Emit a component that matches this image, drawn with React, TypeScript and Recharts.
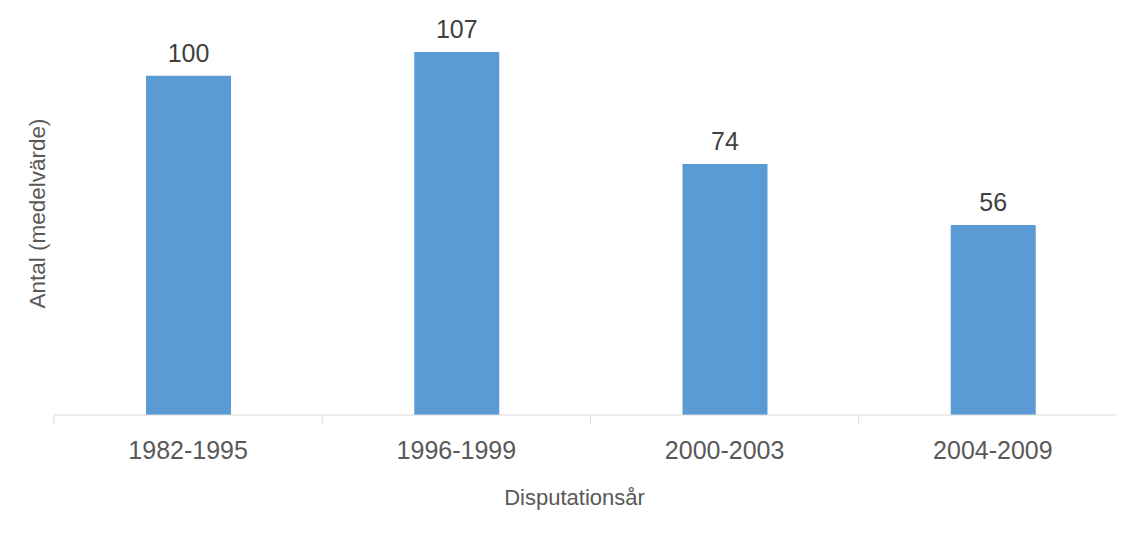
import React from 'react';
import { BarChart, Bar, XAxis, YAxis, LabelList, Label } from 'recharts';

const categories = ['1982-1995', '1996-1999', '2000-2003', '2004-2009'];
const values = [100, 107, 74, 56];
const yDomain = [0, 120];
const xTitle = 'Disputationsår';
const yTitle = 'Antal (medelvärde)';

const data = categories.map((c, i) => ({ category: c, value: values[i] }));

const FONT = '"Liberation Sans", Arial, sans-serif';
const GRID = '#D9D9D9';

const CategoryTick = (props: any) => {
  const { x, y, payload, index, visibleTicksCount } = props;
  const off = payload.offset || 0;
  const isLast = index === visibleTicksCount - 1;
  return (
    <g>
      <line x1={x - off} x2={x - off} y1={y} y2={y + 9} stroke={GRID} strokeWidth={1} />
      {isLast && <line x1={x + off} x2={x + off} y1={y} y2={y + 9} stroke={GRID} strokeWidth={1} />}
      <text x={x} y={y + 44} textAnchor="middle" fill="#595959" fontSize={25} fontFamily={FONT}>
        {payload.value}
      </text>
    </g>
  );
};

export default function App() {
  return (
    <div style={{ width: 1108, height: 518, overflow: 'visible' }}>
      <BarChart
        width={1120}
        height={518}
        data={data}
        margin={{ top: 0, right: 1, bottom: 51, left: 0 }}
        barSize={85}
        style={{ overflow: 'visible' }}
      >
        <XAxis
          dataKey="category"
          axisLine={{ stroke: GRID, strokeWidth: 1 }}
          tickLine={false}
          tickSize={0}
          tickMargin={0}
          height={60}
          interval={0}
          tick={<CategoryTick />}
        >
          <Label
            content={(p: any) => {
              const vb = p.viewBox || {};
              return (
                <text
                  x={vb.x + vb.width / 2 - 16}
                  y={vb.y + 90}
                  textAnchor="middle"
                  fill="#595959"
                  fontSize={22}
                  fontFamily={FONT}
                >
                  {xTitle}
                </text>
              );
            }}
          />
        </XAxis>
        <YAxis domain={yDomain} axisLine={false} tickLine={false} tick={false} width={46}>
          <Label
            content={(p: any) => {
              const vb = p.viewBox || {};
              const cx = vb.x + 37;
              const cy = vb.y + vb.height / 2 + 2;
              return (
                <text
                  x={cx}
                  y={cy}
                  transform={`rotate(-90, ${cx}, ${cy})`}
                  textAnchor="middle"
                  fill="#595959"
                  fontSize={22.5}
                  fontFamily={FONT}
                >
                  {yTitle}
                </text>
              );
            }}
          />
        </YAxis>
        <Bar dataKey="value" fill="#5B9BD5" isAnimationActive={false}>
          <LabelList dataKey="value" position="top" offset={14} fill="#404040" fontSize={25} fontFamily={FONT} />
        </Bar>
      </BarChart>
    </div>
  );
}
